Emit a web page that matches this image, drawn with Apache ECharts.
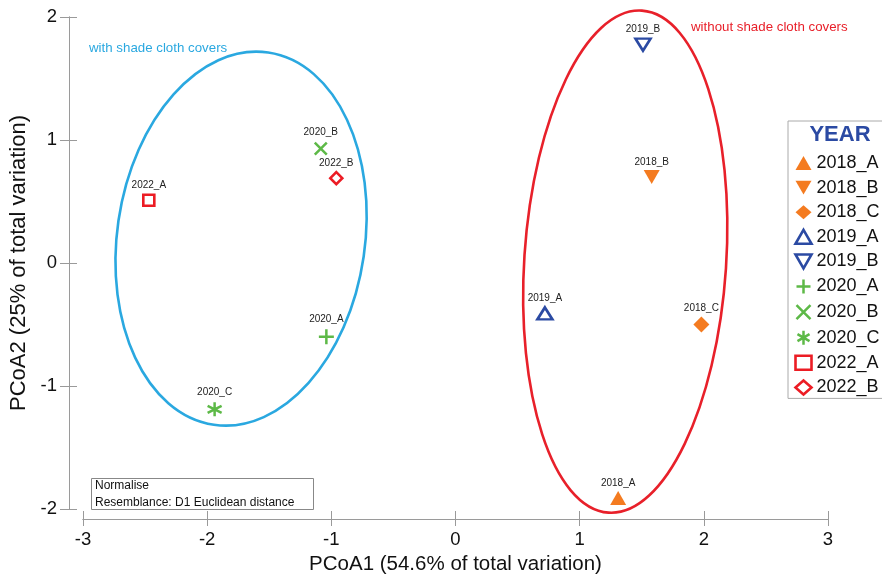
<!DOCTYPE html>
<html>
<head>
<meta charset="utf-8">
<script src="https://cdn.jsdelivr.net/npm/echarts@6/dist/echarts.min.js"></script>
<style>
html, body { margin: 0; padding: 0; background: #fff; }
#chart { width: 882px; height: 577px; }
</style>
</head>
<body>
<div id="chart"></div>
<script>
// sample scores on the first two principal coordinates
var sampleNames = ['2018_A', '2018_B', '2018_C', '2019_A', '2019_B', '2020_A', '2020_B', '2020_C', '2022_A', '2022_B'];
var pcoa1 = [1.31, 1.58, 1.98, 0.72, 1.51, -1.04, -1.085, -1.94, -2.47, -0.96];
var pcoa2 = [-1.91, 0.70, -0.50, -0.41, 1.775, -0.60, 0.93, -1.19, 0.51, 0.69];
var xRange = [-3, 3];
var yRange = [-2, 2];

var ORANGE = '#F47B20', BLUE = '#2B4AA3', GREEN = '#5DB947', RED = '#EC1C24';
var DOWN_TRI = 'path://M0,0L10,0L5,8.66Z';

// marker look per sample (same order as sampleNames)
var markStyles = [
    { symbol: 'triangle', size: [16, 14], color: ORANGE },
    { symbol: DOWN_TRI, size: [16, 14], color: ORANGE },
    { symbol: 'diamond', size: [16, 16], color: ORANGE },
    { symbol: 'triangle', size: [15, 12], color: BLUE, open: true },
    { symbol: DOWN_TRI, size: [15, 12], color: BLUE, open: true },
    { symbol: 'path://M5,0L5,10M0,5L10,5', size: 15, color: GREEN, line: true },
    { symbol: 'path://M0,0L10,10M10,0L0,10', size: 12, color: GREEN, line: true },
    { symbol: 'path://M5,0L5,10M0.7,2.5L9.3,7.5M9.3,2.5L0.7,7.5', size: 14, color: GREEN, line: true },
    { symbol: 'rect', size: 11, color: RED, open: true },
    { symbol: 'diamond', size: [12, 12], color: RED, open: true }
];

// group outlines, in data units (tilt in degrees, negative = clockwise)
var groupEllipses = [
    { cx: -1.727, cy: 0.198, rx: 0.998, ry: 1.529, tilt: -8.3, color: '#2AA8E0' },
    { cx: 1.367, cy: 0.011, rx: 0.813, ry: 2.045, tilt: -3.8, color: '#E8202A' }
];

var series = sampleNames.map(function (name, i) {
    var st = markStyles[i];
    var itemStyle;
    if (st.line) {
        itemStyle = { color: 'none', borderColor: st.color, borderWidth: 2.5, opacity: 1 };
    } else if (st.open) {
        itemStyle = { color: '#fff', borderColor: st.color, borderWidth: 2.6, opacity: 1 };
    } else {
        itemStyle = { color: st.color, opacity: 1 };
    }
    return {
        name: name,
        type: 'scatter',
        xAxisIndex: 0,
        yAxisIndex: 0,
        symbol: st.symbol,
        symbolSize: st.size,
        itemStyle: itemStyle,
        z: 3,
        label: {
            show: true,
            position: 'top',
            distance: 3,
            formatter: '{a}',
            fontFamily: 'Liberation Sans',
            fontSize: 10,
            color: '#222'
        },
        data: [[pcoa1[i], pcoa2[i]]]
    };
});

var axisGray = '#9a9a9a';

function xAxisPart(showLabels, inside) {
    return {
        type: 'value',
        position: 'bottom',
        min: xRange[0],
        max: xRange[1],
        interval: 1,
        offset: 10,
        name: showLabels ? 'PCoA1 (54.6% of total variation)' : '',
        nameLocation: 'middle',
        nameGap: 32,
        nameTextStyle: { fontFamily: 'Liberation Sans', fontSize: 20.5, color: '#111' },
        axisLine: { show: true, onZero: false, lineStyle: { color: axisGray, width: 1 } },
        axisTick: { show: true, inside: inside, length: inside ? 8 : 7, lineStyle: { color: axisGray } },
        axisLabel: { show: showLabels, margin: 11, fontFamily: 'Liberation Sans', fontSize: 18.5, color: '#111' },
        splitLine: { show: false }
    };
}

function yAxisPart(showLabels, inside) {
    return {
        type: 'value',
        position: 'left',
        min: yRange[0],
        max: yRange[1],
        interval: 1,
        offset: 14,
        name: showLabels ? 'PCoA2 (25% of total variation)' : '',
        nameLocation: 'middle',
        nameGap: 34,
        nameTextStyle: { fontFamily: 'Liberation Sans', fontSize: 22, color: '#111' },
        axisLine: { show: true, onZero: false, lineStyle: { color: axisGray, width: 1 } },
        axisTick: { show: true, inside: inside, length: inside ? 8 : 9, lineStyle: { color: axisGray } },
        axisLabel: { show: showLabels, margin: 12, fontFamily: 'Liberation Sans', fontSize: 18.5, color: '#111' },
        splitLine: { show: false }
    };
}

var option = {
    animation: false,
    backgroundColor: '#fff',
    grid: { left: 83, right: 54, top: 17, bottom: 68, outerBoundsMode: 'none', containLabel: false },
    xAxis: [xAxisPart(true, false), xAxisPart(false, true)],
    yAxis: [yAxisPart(true, false), yAxisPart(false, true)],
    legend: {
        orient: 'vertical',
        left: 788,
        top: 121,
        padding: [33, 30, 2, 6],
        borderColor: '#aaa',
        borderWidth: 1,
        itemWidth: 16,
        itemHeight: 14,
        itemGap: 6.6,
        selectedMode: false,
        itemStyle: { borderWidth: 'inherit' },
        textStyle: { fontFamily: 'Liberation Sans', fontSize: 18, lineHeight: 18, color: '#111' },
        data: sampleNames
    },
    series: series
};

var chart = echarts.init(document.getElementById('chart'));
chart.setOption(option);

function toPx(p) {
    return chart.convertToPixel({ seriesIndex: 0 }, p);
}

var graphics = groupEllipses.map(function (e, k) {
    var c = toPx([e.cx, e.cy]);
    var ex = toPx([e.cx + e.rx, e.cy]);
    var ey = toPx([e.cx, e.cy + e.ry]);
    return {
        id: 'ell' + k,
        type: 'ellipse',
        x: c[0],
        y: c[1],
        rotation: e.tilt * Math.PI / 180,
        silent: true,
        z: 1,
        shape: { cx: 0, cy: 0, rx: ex[0] - c[0], ry: c[1] - ey[1] },
        style: { fill: 'none', stroke: e.color, lineWidth: 2.6 }
    };
});

graphics.push(
    {
        id: 'lblWith', type: 'text', x: 89, y: 48, silent: true, z: 2,
        style: { text: 'with shade cloth covers', fill: '#2AA8E0', fontFamily: 'Liberation Sans', fontSize: 13.3, verticalAlign: 'middle' }
    },
    {
        id: 'lblWithout', type: 'text', x: 691, y: 27, silent: true, z: 2,
        style: { text: 'without shade cloth covers', fill: '#E8202A', fontFamily: 'Liberation Sans', fontSize: 13.3, verticalAlign: 'middle' }
    },
    {
        id: 'year', type: 'text', x: 840, y: 135, silent: true, z: 5,
        style: { text: 'YEAR', fill: BLUE, fontFamily: 'Liberation Sans', fontWeight: 'bold', fontSize: 22, align: 'center', verticalAlign: 'middle' }
    },
    {
        id: 'noteBox', type: 'rect', silent: true, z: 2,
        shape: { x: 91.5, y: 478.5, width: 222, height: 31 },
        style: { fill: '#fff', stroke: '#888', lineWidth: 1 }
    },
    {
        id: 'noteText', type: 'text', x: 95, y: 477, silent: true, z: 3,
        style: { text: 'Normalise\nResemblance: D1 Euclidean distance', fill: '#111', fontFamily: 'Liberation Sans', fontSize: 12, lineHeight: 17 }
    }
);

chart.setOption({ graphic: graphics });
</script>
</body>
</html>
